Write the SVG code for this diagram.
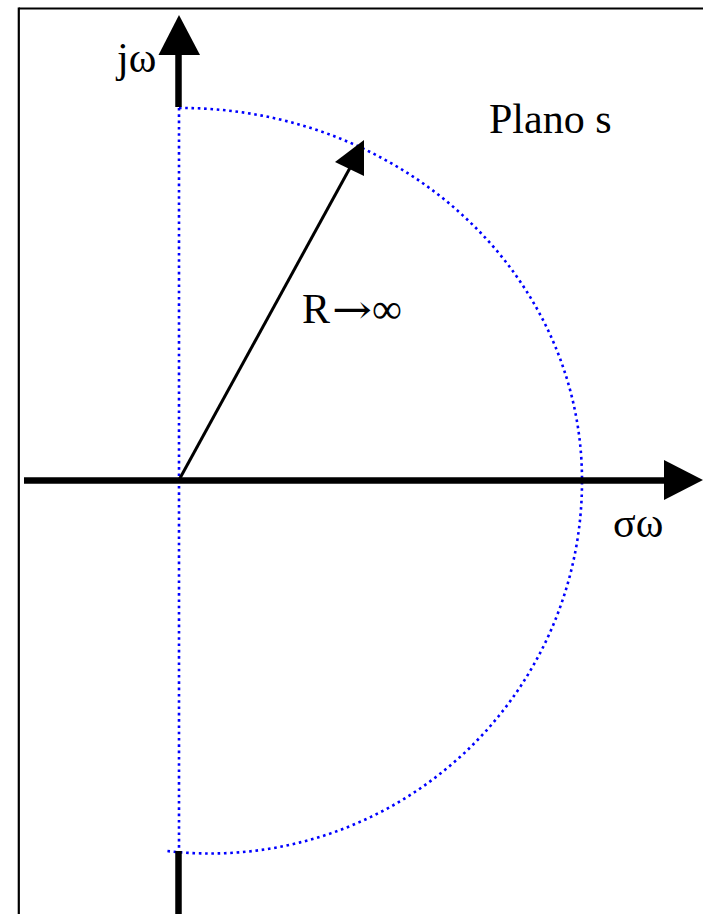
<svg xmlns="http://www.w3.org/2000/svg" width="703" height="914" viewBox="0 0 703 914">
  <style>
    .lbl { font-family: "Liberation Serif", "Times New Roman", serif; font-size: 42px; fill: #000; }
    .arr { font-family: "DejaVu Serif", "Liberation Serif", serif; font-size: 40px; }
    .axis { stroke: #000; stroke-width: 6.5; fill: none; }
    .dot { stroke: #0000ff; stroke-width: 2.6; stroke-dasharray: 2.6 3.7; fill: none; }
    .frame { stroke: #000; stroke-width: 2.2; fill: none; }
  </style>
  <rect width="703" height="914" fill="#fff"/>
  <g id="frame">
    <line class="frame" x1="18.8" y1="8.5" x2="703" y2="8.5"/>
    <line class="frame" x1="18.8" y1="7.4" x2="18.8" y2="914"/>
  </g>
  <g id="contour">
    <line class="dot" x1="179" y1="108" x2="179" y2="851"/>
    <path class="dot" d="M179,108 A401,372 0 0,1 582,480 A372,372 0 0,1 167,851"/>
  </g>
  <g id="connectors">
    <g id="axis-jw">
      <line class="axis" x1="178.5" y1="54" x2="178.5" y2="107"/>
      <polygon points="179,15 158.5,55 200,55" fill="#000"/>
      <line class="axis" x1="178.5" y1="851" x2="178.5" y2="914"/>
    </g>
    <g id="axis-sigma">
      <line class="axis" x1="24" y1="480.5" x2="665" y2="480.5"/>
      <polygon points="703,480 664,460 664,500" fill="#000"/>
    </g>
    <g id="radius">
      <line x1="179" y1="480" x2="351" y2="166" stroke="#000" stroke-width="3"/>
      <polygon points="364,140 335,162 364,176" fill="#000"/>
    </g>
  </g>
  <g id="labels">
    <text class="lbl" x="117" y="71.5">jω</text>
    <text class="lbl" x="489" y="133">Plano s</text>
    <text class="lbl" x="302" y="323">R<tspan class="arr" x="332" textLength="40" lengthAdjust="spacingAndGlyphs">→</tspan><tspan x="372">∞</tspan></text>
    <text class="lbl" x="613" y="537">σω</text>
  </g>
</svg>
